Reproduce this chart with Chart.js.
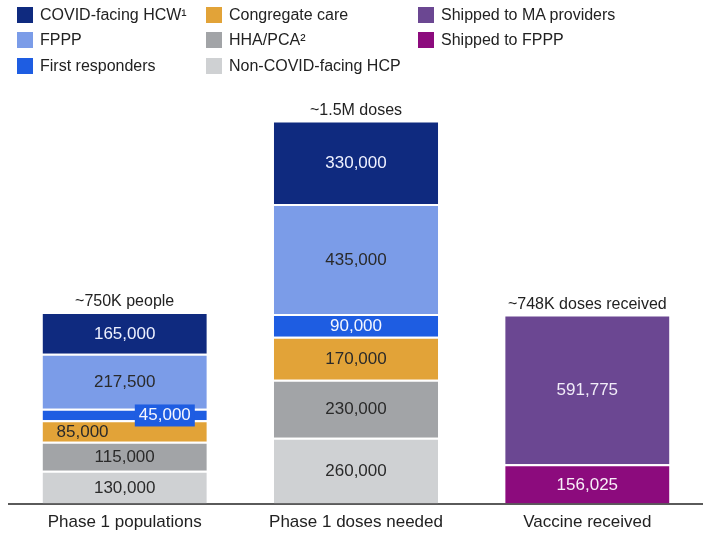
<!DOCTYPE html>
<html lang="en">
<head>
    <meta charset="UTF-8">
    <title>Phase 1 vaccine doses</title>
    <script src="https://cdn.jsdelivr.net/npm/chart.js"></script>
    <style>
        body {
            margin: 0;
            background: #ffffff;
            font-family: "Liberation Sans", Arial, sans-serif;
        }
        #wrap {
            position: relative;
            width: 703px;
            height: 535px;
        }
        #legend .item {
            position: absolute;
            display: flex;
            align-items: center;
            height: 20px;
            font-size: 16px;
            color: #222;
            white-space: nowrap;
        }
        #legend .box {
            width: 16px;
            height: 16px;
            margin-right: 7px;
        }
    </style>
</head>
<body>

<div id="wrap">
    <canvas id="phaseChart" width="703" height="535"></canvas>
    <div id="legend"></div>
</div>

<script>
    // data
    const categories = ['Phase 1 populations', 'Phase 1 doses needed', 'Vaccine received'];
    const topLabels = ['~750K people', '~1.5M doses', '~748K doses received'];

    const nonCovidHcp     = [130000, 260000, null];
    const hhaPca          = [115000, 230000, null];
    const congregateCare  = [85000, 170000, null];
    const firstResponders = [45000, 90000, null];
    const fppp            = [217500, 435000, null];
    const covidHcw        = [165000, 330000, null];
    const shippedFppp     = [null, null, 156025];
    const shippedMa       = [null, null, 591775];

    // bottom to top stacking order
    const series = [
        { label: 'Non-COVID-facing HCP', data: nonCovidHcp, color: '#cfd1d3', text: '#2a2a2a' },
        { label: 'HHA/PCA\u00B2', data: hhaPca, color: '#a2a4a7', text: '#2a2a2a' },
        { label: 'Congregate care', data: congregateCare, color: '#e2a338', text: '#2a2a2a' },
        { label: 'First responders', data: firstResponders, color: '#1e5de2', text: '#f4f6ff' },
        { label: 'FPPP', data: fppp, color: '#7b9ce8', text: '#2a2a2a' },
        { label: 'COVID-facing HCW\u00B9', data: covidHcw, color: '#0f2a7f', text: '#eef1ff' },
        { label: 'Shipped to FPPP', data: shippedFppp, color: '#8c0b7d', text: '#f8eef8' },
        { label: 'Shipped to MA providers', data: shippedMa, color: '#6b4792', text: '#f1ecf8' }
    ];

    // legend is laid out in 3 columns, like the slide
    const legendOrder = [
        ['COVID-facing HCW\u00B9', 17, 5], ['FPPP', 17, 30], ['First responders', 17, 56],
        ['Congregate care', 206, 5], ['HHA/PCA\u00B2', 206, 30], ['Non-COVID-facing HCP', 206, 56],
        ['Shipped to MA providers', 418, 5], ['Shipped to FPPP', 418, 30]
    ];

    const legendEl = document.getElementById('legend');
    legendOrder.forEach(([name, left, top]) => {
        const s = series.find(d => d.label === name);
        const item = document.createElement('div');
        item.className = 'item';
        item.style.left = left + 'px';
        item.style.top = top + 'px';
        item.innerHTML = '<span class="box" style="background:' + s.color + '"></span>' + name;
        legendEl.appendChild(item);
    });

    const FONT = '"Liberation Sans", Arial, sans-serif';

    // odd label placements in the first bar
    const specialLabels = {
        'First responders|0': 'boxRight',
        'Congregate care|0': 'left'
    };

    const segmentLabels = {
        id: 'segmentLabels',
        afterDatasetsDraw(chart) {
            const ctx = chart.ctx;
            ctx.save();
            ctx.font = '17px ' + FONT;
            ctx.textBaseline = 'middle';
            const tops = [];
            chart.data.datasets.forEach((ds, di) => {
                const meta = chart.getDatasetMeta(di);
                meta.data.forEach((bar, i) => {
                    const v = ds.data[i];
                    if (v == null) return;
                    const p = bar.getProps(['x', 'y', 'base', 'width'], true);
                    tops[i] = tops[i] === undefined ? p.y : Math.min(tops[i], p.y);
                    const cy = (p.y + p.base) / 2 + 1;
                    const txt = v.toLocaleString('en-US');
                    const mode = specialLabels[ds.label + '|' + i];
                    if (mode === 'boxRight') {
                        const w = ctx.measureText(txt).width + 8;
                        const right = p.x + p.width / 2 - 12;
                        ctx.fillStyle = series[di].color;
                        ctx.fillRect(right - w, cy - 11, w, 22);
                        ctx.fillStyle = series[di].text;
                        ctx.textAlign = 'center';
                        ctx.fillText(txt, right - w / 2, cy);
                    } else if (mode === 'left') {
                        ctx.fillStyle = series[di].text;
                        ctx.textAlign = 'left';
                        ctx.fillText(txt, p.x - p.width / 2 + 14, cy);
                    } else {
                        ctx.fillStyle = series[di].text;
                        ctx.textAlign = 'center';
                        ctx.fillText(txt, p.x, cy);
                    }
                });
            });
            // totals above each bar
            ctx.font = '16px ' + FONT;
            ctx.fillStyle = '#222';
            ctx.textAlign = 'center';
            ctx.textBaseline = 'alphabetic';
            const xs = chart.scales.x;
            topLabels.forEach((t, i) => {
                ctx.fillText(t, xs.getPixelForValue(i), tops[i] - 6);
            });
            ctx.restore();
        }
    };

    new Chart(document.getElementById('phaseChart'), {
        type: 'bar',
        data: {
            labels: categories,
            datasets: series.map(s => ({
                label: s.label,
                data: s.data,
                backgroundColor: s.color,
                borderColor: '#ffffff',
                borderWidth: { top: 2, left: 0, right: 0, bottom: 0 },
                borderSkipped: false,
                barPercentage: 0.71,
                categoryPercentage: 1
            }))
        },
        options: {
            responsive: false,
            animation: false,
            layout: { padding: { top: 94, left: 9, right: -3, bottom: -7 } },
            plugins: {
                legend: { display: false },
                tooltip: { enabled: false }
            },
            scales: {
                x: {
                    stacked: true,
                    grid: { display: false, drawTicks: false },
                    border: { display: true, color: '#5a5a5a', width: 2 },
                    ticks: { color: '#222', padding: 9, font: { family: FONT, size: 17 } }
                },
                y: {
                    stacked: true,
                    display: false,
                    min: 0,
                    max: 1620000
                }
            }
        },
        plugins: [segmentLabels]
    });
</script>

</body>
</html>
